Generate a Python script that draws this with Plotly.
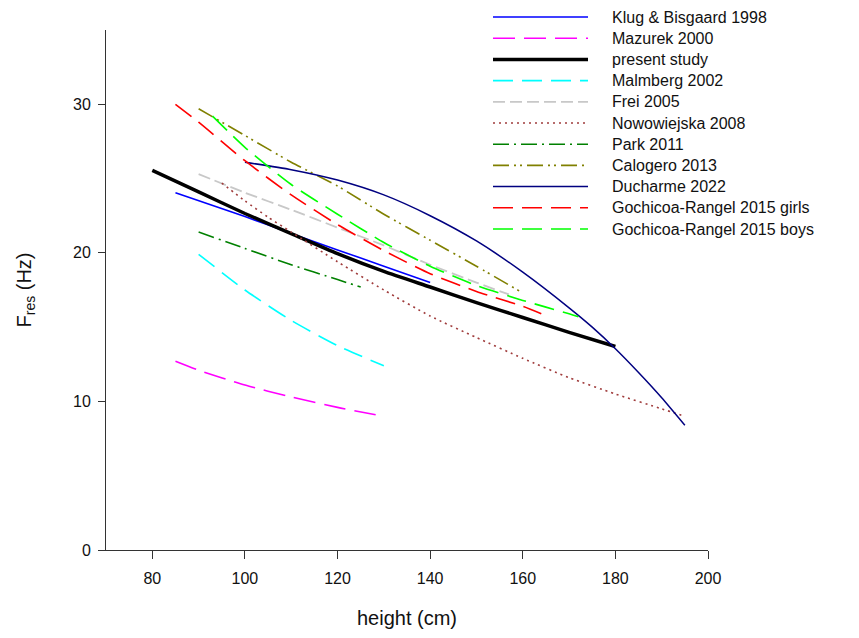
import plotly.graph_objects as go

# ---------------- data ----------------
names = ["Klug & Bisgaard 1998", "Mazurek 2000", "present study", "Malmberg 2002",
         "Frei 2005", "Nowowiejska 2008", "Park 2011", "Calogero 2013",
         "Ducharme 2022", "Gochicoa-Rangel 2015 girls", "Gochicoa-Rangel 2015 boys"]

h_klug = [85, 100, 110, 120, 130, 140]
f_klug = [24.05, 22.45, 21.3, 20.2, 19.1, 18.0]

h_mazurek = [85, 90, 100, 110, 120, 130]
f_mazurek = [12.7, 12.1, 11.1, 10.3, 9.6, 9.0]

h_present = [80, 90, 100, 110, 120, 130, 140, 150, 160, 170, 180]
f_present = [25.55, 24.1, 22.65, 21.3, 19.95, 18.75, 17.7, 16.65, 15.65, 14.65, 13.7]

h_malmberg = [90, 100, 110, 120, 130]
f_malmberg = [19.9, 17.5, 15.45, 13.75, 12.4]

h_frei = [90, 100, 110, 120, 130, 140, 150, 157]
f_frei = [25.3, 24.05, 22.9, 21.7, 20.5, 19.2, 18.0, 17.2]

h_nowo = [95, 100, 105, 110, 120, 130, 140, 150, 160, 170, 180, 190, 195]
f_nowo = [24.7, 23.5, 22.4, 21.4, 19.4, 17.5, 15.75, 14.3, 12.9, 11.6, 10.5, 9.5, 9.0]

h_park = [90, 100, 110, 120, 125]
f_park = [21.4, 20.3, 19.2, 18.2, 17.7]

h_calogero = [90, 100, 110, 120, 130, 140, 150, 160]
f_calogero = [29.7, 27.9, 26.1, 24.5, 22.6, 20.85, 19.1, 17.3]

h_ducharme = [100, 110, 120, 130, 140, 150, 160, 170, 175, 180, 185, 190, 195]
f_ducharme = [26.1, 25.6, 24.9, 23.9, 22.5, 20.8, 18.7, 16.3, 15.0, 13.55, 11.95, 10.25, 8.4]

h_girls = [85, 90, 100, 110, 120, 130, 140, 150, 160, 164]
f_girls = [30.0, 28.8, 26.2, 23.9, 21.9, 20.15, 18.6, 17.4, 16.4, 15.9]

h_boys = [93, 100, 110, 120, 130, 140, 150, 160, 170, 172]
f_boys = [29.2, 27.1, 24.6, 22.6, 20.7, 19.1, 17.8, 16.8, 15.9, 15.7]

x_ticks = [80, 100, 120, 140, 160, 180, 200]
y_ticks = [0, 10, 20, 30]

# ---------------- styles ----------------
series = [
    (h_klug, f_klug, "#0000FF", 1.6, "solid"),
    (h_mazurek, f_mazurek, "#FF00FF", 1.6, "22px,9px"),
    (h_present, f_present, "#000000", 3.5, "solid"),
    (h_malmberg, f_malmberg, "#00FFFF", 1.6, "20px,9px"),
    (h_frei, f_frei, "#C8C8C8", 1.8, "12px,5px"),
    (h_nowo, f_nowo, "#A03C3C", 1.6, "2px,4px"),
    (h_park, f_park, "#008000", 1.6, "16px,5px,2px,5px"),
    (h_calogero, f_calogero, "#808000", 1.6, "16px,5px,2px,4px,2px,5px"),
    (h_ducharme, f_ducharme, "#000080", 1.5, "solid"),
    (h_girls, f_girls, "#FF0000", 1.6, "20px,9px"),
    (h_boys, f_boys, "#00FF00", 1.6, "20px,9px"),
]

FONT = "Liberation Sans, Arial, sans-serif"

fig = go.Figure()
for name, (hx, fy, col, w, dash) in zip(names, series):
    fig.add_trace(go.Scatter(x=hx, y=fy, mode="lines", name=name,
                             line=dict(color=col, width=w, dash=dash,
                                       shape="spline", smoothing=0.6),
                             showlegend=False))

# ---------------- custom legend (long line samples) ----------------
W, H = 859, 638
ml, mr, mt, mb = 106, 151, 30, 88
pw, ph = W - ml - mr, H - mt - mb

def px2x(px):
    return (px - ml) / pw

def py2y(py):
    return (H - mb - py) / ph

shapes = []
annotations = []
for i, (name, (hx, fy, col, w, dash)) in enumerate(zip(names, series)):
    py = 17 + 21.2 * i
    shapes.append(dict(type="line", xref="paper", yref="paper",
                       x0=px2x(493), x1=px2x(588), y0=py2y(py), y1=py2y(py),
                       line=dict(color=col, width=w, dash=dash)))
    annotations.append(dict(xref="paper", yref="paper", x=px2x(610), y=py2y(py),
                            xanchor="left", yanchor="middle", showarrow=False,
                            text=name, font=dict(family=FONT, size=16, color="#111111")))

fig.update_layout(
    width=W, height=H,
    margin=dict(l=ml, r=mr, t=mt, b=mb),
    paper_bgcolor="white", plot_bgcolor="white",
    shapes=shapes, annotations=annotations,
    font=dict(family=FONT, size=16, color="#111111"),
    xaxis=dict(range=[70, 200], tickvals=x_ticks, ticks="outside", ticklen=8,
               tickcolor="#333333", showline=True, linecolor="#333333", linewidth=1,
               showgrid=False, zeroline=False, ticklabelstandoff=6,
               tickfont=dict(family=FONT, size=16, color="#111111"),
               title=dict(text="height (cm)", standoff=24,
                          font=dict(family=FONT, size=20, color="#111111")),
               automargin=False),
    yaxis=dict(range=[0, 35], tickvals=y_ticks, ticks="outside", ticklen=7,
               tickcolor="#333333", showline=True, linecolor="#333333", linewidth=1,
               showgrid=False, zeroline=False, ticklabelstandoff=4,
               tickfont=dict(family=FONT, size=16, color="#111111"),
               title=dict(text="F<sub>res</sub> (Hz)", standoff=36,
                          font=dict(family=FONT, size=20, color="#111111")),
               automargin=False),
)

fig.write_html("out.html")
